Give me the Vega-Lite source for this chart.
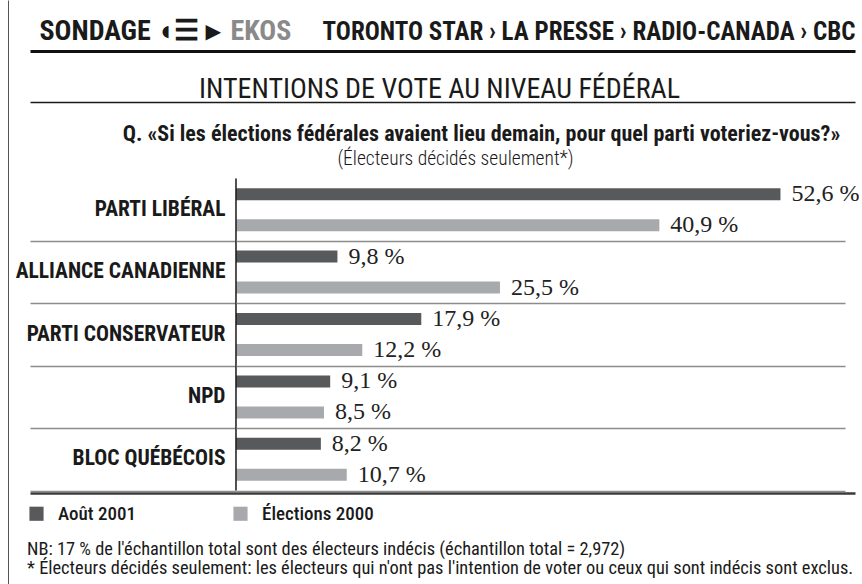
{
  "$schema": "https://vega.github.io/schema/vega-lite/v6.json",
  "width": 847,
  "height": 584,
  "autosize": "none",
  "padding": {"left": 8, "top": 0, "right": 7, "bottom": 0},
  "background": "white",
  "config": {
    "view": {"stroke": "#555555", "strokeWidth": 1, "strokeDash": [0, 2278, 584]},
    "axis": {"titleFont": "Roboto Condensed", "labelFont": "Roboto Condensed", "titleColor": "#1a1a1a", "labelColor": "#1a1a1a", "titleLimit": 1000},
    "legend": {"titleFont": "Roboto Condensed", "labelFont": "Roboto Condensed"}
  },
  "data": {
    "values": [
      {"party": "PARTI LIBÉRAL", "series": "Août 2001", "value": 52.6},
      {"party": "PARTI LIBÉRAL", "series": "Élections 2000", "value": 40.9},
      {"party": "ALLIANCE CANADIENNE", "series": "Août 2001", "value": 9.8},
      {"party": "ALLIANCE CANADIENNE", "series": "Élections 2000", "value": 25.5},
      {"party": "PARTI CONSERVATEUR", "series": "Août 2001", "value": 17.9},
      {"party": "PARTI CONSERVATEUR", "series": "Élections 2000", "value": 12.2},
      {"party": "NPD", "series": "Août 2001", "value": 9.1},
      {"party": "NPD", "series": "Élections 2000", "value": 8.5},
      {"party": "BLOC QUÉBÉCOIS", "series": "Août 2001", "value": 8.2},
      {"party": "BLOC QUÉBÉCOIS", "series": "Élections 2000", "value": 10.7}
    ]
  },
  "transform": [
    {"calculate": "replace(format(datum.value, '.1f'), '.', ',') + ' %'", "as": "label"}
  ],
  "resolve": {"axis": {"x": "independent", "y": "independent"}},
  "layer": [
    {
      "mark": {"type": "bar"},
      "encoding": {
        "y": {
          "field": "party", "type": "nominal",
          "sort": ["PARTI LIBÉRAL", "ALLIANCE CANADIENNE", "PARTI CONSERVATEUR", "NPD", "BLOC QUÉBÉCOIS"],
          "scale": {"range": [178.5, 490.5], "paddingInner": 0, "paddingOuter": 0},
          "axis": {
            "orient": "left", "offset": 0,
            "domain": false,
            "ticks": false, "tickSize": 0, "grid": false,
            "labels": true, "labelPadding": -217, "labelAlign": "right", "labelBaseline": "middle",
            "labelFontSize": 21.5, "labelFontWeight": "bold", "labelLimit": 400,
            "title": "SONDAGE ◖☰ ▸", "titleAngle": 0, "titleX": 31, "titleY": 39,
            "titleAlign": "left", "titleBaseline": "alphabetic",
            "titleFontSize": 28, "titleFontWeight": "bold"
          }
        },
        "yOffset": {
          "field": "series", "type": "nominal",
          "scale": {"domain": ["Août 2001", "Élections 2000"], "paddingInner": 0.6129, "paddingOuter": 0.3129}
        },
        "x": {
          "field": "value", "type": "quantitative", "stack": null,
          "scale": {"domain": [-19.9, 59.8], "range": [22, 847], "nice": false},
          "axis": {
            "orient": "bottom", "offset": -91,
            "domain": true, "domainColor": "#3a3a3a", "domainWidth": 2.5,
            "ticks": false, "labels": false, "grid": false,
            "title": "Q. «Si les élections fédérales avaient lieu demain, pour quel parti voteriez-vous?»",
            "titleX": 473, "titleY": -353, "titleAlign": "center", "titleBaseline": "alphabetic",
            "titleFontSize": 22, "titleFontWeight": "bold"
          }
        },
        "color": {
          "field": "series", "type": "nominal",
          "scale": {"domain": ["Août 2001", "Élections 2000"], "range": ["#58595b", "#a7a9ac"]},
          "legend": {
            "orient": "none", "legendX": 19, "legendY": 504, "direction": "horizontal", "padding": 0,
            "symbolType": "square", "symbolSize": 200, "symbolStrokeWidth": 0, "symbolOpacity": 1,
            "labelFontSize": 19, "labelFontWeight": 500, "labelColor": "#1a1a1a", "labelOffset": 12,
            "columnPadding": 95,
            "title": ["NB: 17 % de l'échantillon total sont des électeurs indécis (échantillon total = 2,972)", "* Électeurs décidés seulement: les électeurs qui n'ont pas l'intention de voter ou ceux qui sont indécis sont exclus."],
            "titleOrient": "bottom", "titleAnchor": "start", "titleAlign": "left", "titlePadding": 16,
            "titleFontSize": 18.4, "titleFontWeight": "normal", "titleColor": "#1a1a1a", "titleLineHeight": 19, "titleLimit": 1000
          }
        }
      }
    },
    {
      "mark": {"type": "text", "font": "Liberation Serif", "fontSize": 24, "align": "left", "baseline": "middle", "dx": 11, "color": "#222222"},
      "encoding": {
        "y": {
          "field": "party", "type": "nominal",
          "sort": ["PARTI LIBÉRAL", "ALLIANCE CANADIENNE", "PARTI CONSERVATEUR", "NPD", "BLOC QUÉBÉCOIS"],
          "axis": {
            "orient": "left", "offset": -228,
            "values": ["ALLIANCE CANADIENNE", "PARTI CONSERVATEUR", "NPD", "BLOC QUÉBÉCOIS"],
            "tickBand": "extent", "ticks": true, "tickSize": 206, "tickColor": "#8c8c8c", "tickWidth": 1.3,
            "labels": false, "domain": false, "grid": false,
            "title": "EKOS", "titleAngle": 0, "titleX": -6, "titleY": 39,
            "titleAlign": "left", "titleBaseline": "alphabetic",
            "titleFontSize": 28, "titleFontWeight": "bold", "titleColor": "#8a8a8a"
          }
        },
        "yOffset": {"field": "series", "type": "nominal"},
        "x": {
          "field": "value", "type": "quantitative", "stack": null,
          "axis": {
            "orient": "top", "offset": -102,
            "domain": true, "domainColor": "#1a1a1a", "domainWidth": 1.5,
            "ticks": false, "labels": false, "grid": false,
            "title": "INTENTIONS DE VOTE AU NIVEAU FÉDÉRAL",
            "titleX": 431, "titleY": -5, "titleAlign": "center", "titleBaseline": "alphabetic",
            "titleFontSize": 28, "titleFontWeight": "normal"
          }
        },
        "text": {"field": "label", "type": "nominal"}
      }
    },
    {
      "transform": [{"filter": "datum.series === 'Août 2001'"}],
      "mark": {"type": "rect", "stroke": "#1a1a1a", "strokeWidth": 1, "fill": "#1a1a1a"},
      "encoding": {
        "y": {
          "field": "party", "type": "nominal",
          "sort": ["PARTI LIBÉRAL", "ALLIANCE CANADIENNE", "PARTI CONSERVATEUR", "NPD", "BLOC QUÉBÉCOIS"],
          "axis": {
            "orient": "right", "offset": -619,
            "values": ["ALLIANCE CANADIENNE", "PARTI CONSERVATEUR", "NPD", "BLOC QUÉBÉCOIS"],
            "tickBand": "extent", "ticks": true, "tickSize": 609, "tickColor": "#8c8c8c", "tickWidth": 1.3,
            "labels": false, "domain": false, "grid": false,
            "title": "(Électeurs décidés seulement*)", "titleAngle": 0, "titleX": 219, "titleY": 164,
            "titleAlign": "center", "titleBaseline": "alphabetic",
            "titleFontSize": 19.5, "titleFontWeight": 300
          }
        },
        "x": {
          "datum": 0, "type": "quantitative",
          "axis": {
            "orient": "top", "offset": -51,
            "domain": true, "domainColor": "#111111", "domainWidth": 3,
            "ticks": false, "labels": false, "grid": false,
            "title": "TORONTO STAR › LA PRESSE › RADIO-CANADA › CBC",
            "titleX": 847, "titleY": -12, "titleAlign": "right", "titleBaseline": "alphabetic",
            "titleFontSize": 25, "titleFontWeight": "bold"
          }
        },
        "x2": {"datum": 0}
      }
    }
  ]
}
